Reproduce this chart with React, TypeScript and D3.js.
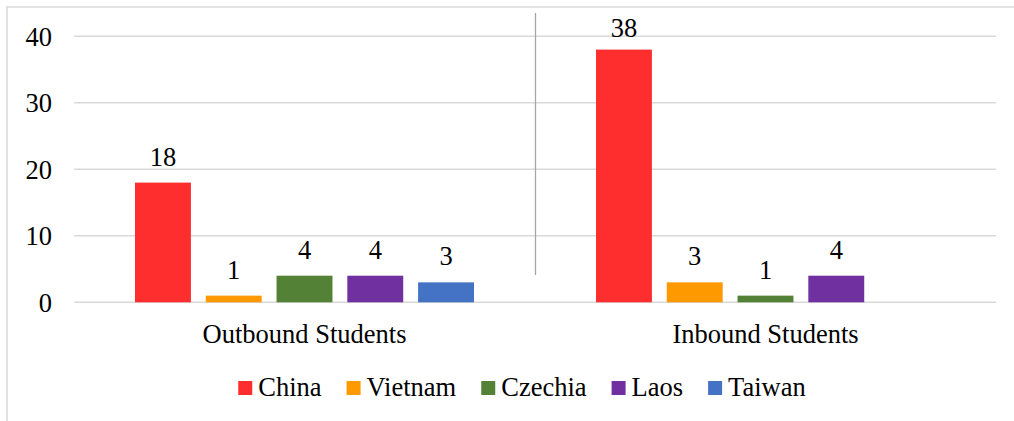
import React, { useEffect, useRef } from "react";
import * as d3 from "d3";

const categories = ["Outbound Students", "Inbound Students"];
const seriesNames = ["China", "Vietnam", "Czechia", "Laos", "Taiwan"];
const seriesColors = ["#FF2E2E", "#FF9900", "#538135", "#7030A0", "#4472C4"];
const outboundValues = [18, 1, 4, 4, 3];
const inboundValues: (number | null)[] = [38, 3, 1, 4, null];
const yTicks = [0, 10, 20, 30, 40];

const W = 1014;
const H = 421;
const FONT = "Liberation Serif, Tinos, Times New Roman, DejaVu Serif, serif";
const FS = 26.5;

export default function App() {
  const ref = useRef<SVGSVGElement | null>(null);

  useEffect(() => {
    const svg = d3.select(ref.current);
    svg.selectAll("*").remove();

    // outer frame
    svg.append("rect")
      .attr("x", 7).attr("y", 7).attr("width", 1020).attr("height", 430)
      .attr("fill", "#fff").attr("stroke", "#d9d9d9").attr("stroke-width", 1.5);

    const x0 = d3.scaleBand<string>().domain(categories).range([74, 996]).padding(0);
    const x1 = d3.scaleBand<string>().domain(seriesNames)
      .range([61, x0.bandwidth() - 61]).paddingInner(0.21).paddingOuter(0);
    const y = d3.scaleLinear().domain([0, 40]).range([302.3, 36.3]);

    const txt = (sel: any) =>
      sel.style("font-family", FONT).style("font-size", FS + "px").attr("fill", "#000");

    // gridlines
    svg.append("g").selectAll("line").data(yTicks).join("line")
      .attr("x1", 74).attr("x2", 996)
      .attr("y1", (d) => y(d)).attr("y2", (d) => y(d))
      .attr("stroke", "#d9d9d9").attr("stroke-width", 1.5);

    // y tick labels
    svg.append("g").selectAll("text").data(yTicks).join("text")
      .attr("x", 52).attr("y", (d) => y(d)).attr("dy", "0.36em")
      .attr("text-anchor", "end")
      .call(txt)
      .text((d) => String(d));

    // separator line between categories
    const sepX = 74 + x0.bandwidth() + 0.5;
    svg.append("line")
      .attr("x1", sepX).attr("x2", sepX).attr("y1", 13).attr("y2", 275)
      .attr("stroke", "#a6a6a6").attr("stroke-width", 1.3);

    const dataRows = [outboundValues, inboundValues];
    const bars: { cat: string; s: string; v: number; color: string }[] = [];
    categories.forEach((cat, ci) => {
      seriesNames.forEach((s, si) => {
        const v = dataRows[ci][si];
        if (v !== null && v !== undefined) bars.push({ cat, s, v, color: seriesColors[si] });
      });
    });

    svg.append("g").selectAll("rect").data(bars).join("rect")
      .attr("x", (d) => (x0(d.cat) as number) + (x1(d.s) as number))
      .attr("y", (d) => y(d.v))
      .attr("width", x1.bandwidth())
      .attr("height", (d) => y(0) - y(d.v))
      .attr("fill", (d) => d.color);

    svg.append("g").selectAll("text").data(bars).join("text")
      .attr("x", (d) => (x0(d.cat) as number) + (x1(d.s) as number) + x1.bandwidth() / 2)
      .attr("y", (d) => Math.max(y(d.v) - 17, 36.7))
      .attr("text-anchor", "middle")
      .call(txt)
      .text((d) => String(d.v));

    // category labels
    svg.append("g").selectAll("text").data(categories).join("text")
      .attr("x", (d) => (x0(d) as number) + x0.bandwidth() / 2)
      .attr("y", 343)
      .attr("text-anchor", "middle")
      .call(txt)
      .text((d) => d);

    // legend
    const lg = svg.append("g");
    const items = lg.selectAll("g").data(seriesNames).join("g");
    items.append("rect")
      .attr("x", 0).attr("y", 381).attr("width", 14).attr("height", 14)
      .attr("fill", (_d, i) => seriesColors[i]);
    const texts = items.append("text")
      .attr("x", 20).attr("y", 396)
      .call(txt)
      .text((d) => d);
    let cx = 0;
    const offsets: number[] = [];
    texts.each(function () {
      offsets.push(cx);
      const w = (this as SVGTextElement).getComputedTextLength();
      cx += 20 + w + 25;
    });
    const total = cx - 25;
    const startX = 522 - total / 2;
    items.attr("transform", (_d, i) => `translate(${startX + offsets[i]},0)`);
  }, []);

  return (
    <svg
      ref={ref}
      width={W}
      height={H}
      style={{ position: "absolute", left: 0, top: 0, background: "#fff" }}
    />
  );
}
